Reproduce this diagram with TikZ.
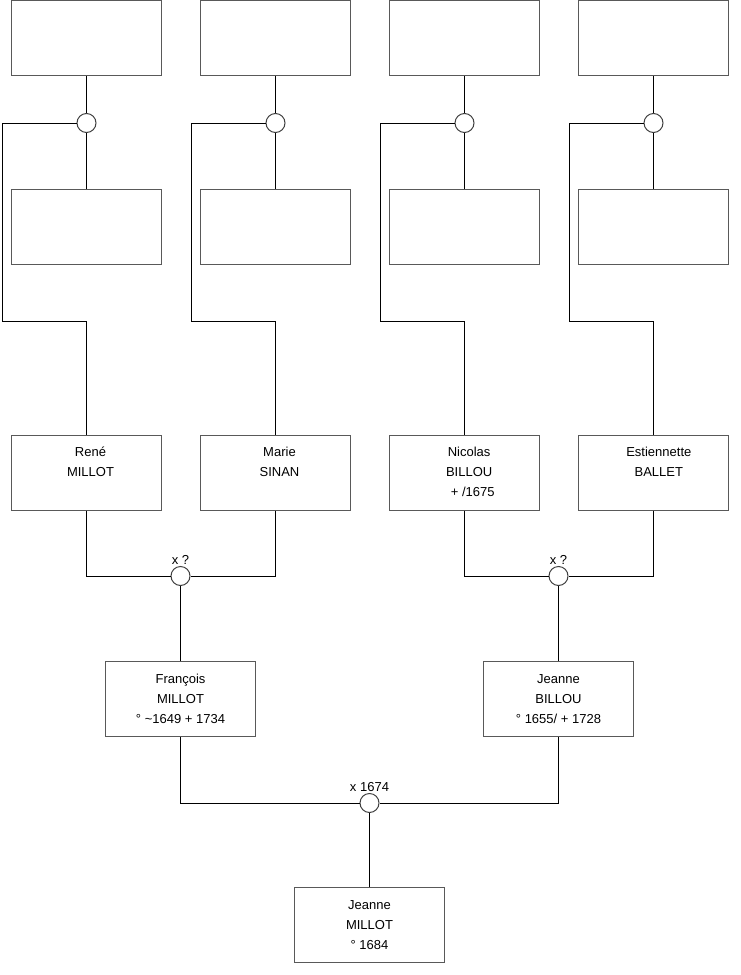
\documentclass[tikz,border=0pt]{standalone}
\usepackage{fontspec}
\setmainfont{Liberation Sans}
\begin{document}
\begin{tikzpicture}[x=0.75pt,y=-0.75pt,
  person/.style={draw=black!65, line width=0.75pt, minimum width=112.5pt, minimum height=56.25pt, inner sep=0pt},
  txt/.style={align=center, inner sep=0pt, font=\fontsize{9.75}{15}\selectfont},
  union/.style={circle, draw=black!75, line width=0.75pt, fill=white, minimum size=14.25pt, inner sep=0pt},
  lab/.style={anchor=base, inner sep=0pt, font=\fontsize{9.75}{15}\selectfont},
  link/.style={draw=black, line width=0.75pt}]
\useasboundingbox (0,0) rectangle (740,975);
% row 1 (unknown grandparents)
\node[person] (a1) at (86.5,38) {};
\node[person] (a2) at (275.5,38) {};
\node[person] (a3) at (464.5,38) {};
\node[person] (a4) at (653.5,38) {};
% row 2
\node[person] (b1) at (86.5,227) {};
\node[person] (b2) at (275.5,227) {};
\node[person] (b3) at (464.5,227) {};
\node[person] (b4) at (653.5,227) {};
% unions
\node[union] (m1) at (86.5,123) {};
\node[union] (m2) at (275.5,123) {};
\node[union] (m3) at (464.5,123) {};
\node[union] (m4) at (653.5,123) {};
% bends
\coordinate (k1) at (2,321);
\coordinate (k2) at (191,321);
\coordinate (k3) at (380,321);
\coordinate (k4) at (569,321);
% row 3
\node[person] (c1) at (86.5,472.5) {};
\node[person] (c2) at (275.5,472.5) {};
\node[person] (c3) at (464.5,472.5) {};
\node[person] (c4) at (653.5,472.5) {};
\node[txt, xshift=3pt] (t1) at (c1) {\strut René\\MILLOT\\\strut};
\node[txt, xshift=3pt] (t2) at (c2) {\strut Marie\\SINAN\\\strut};
\node[txt, xshift=3.5pt] (t3) at (c3) {\strut Nicolas\\BILLOU\\\ \ + /1675\strut};
\node[txt, xshift=4pt] (t4) at (c4) {\strut Estiennette\\BALLET\\\strut};
% unions row 3
\node[union] (p1) at (180.5,576) {};
\node[union] (p2) at (558.5,576) {};
\node[lab] (l1) at ([yshift=9pt]p1.center) {x ?};
\node[lab] (l2) at ([yshift=9pt]p2.center) {x ?};
% row 4
\node[person] (f1) at (180.5,699) {};
\node[person] (f2) at (558.5,699) {};
\node[txt] (tf1) at (f1) {\strut François\\MILLOT\\° \textasciitilde1649 + 1734\strut};
\node[txt] (tf2) at (f2) {\strut Jeanne\\BILLOU\\° 1655/ + 1728\strut};
\node[union] (q) at (369.5,803) {};
\node[lab] (lq) at ([yshift=9pt]q.center) {x 1674};
% row 5
\node[person] (g) at (369.5,925) {};
\node[txt] (tg) at (g) {\strut Jeanne\\MILLOT\\° 1684\strut};
% connectors
\foreach \i in {1,2,3,4}{
  \draw[link] (a\i) -- (m\i);
  \draw[link] (m\i) -- (b\i);
  \draw[link] (m\i.west) -| (k\i) -| (c\i.north);
}
\draw[link] (c1.south) |- (p1.west);
\draw[link] (c2.south) |- (p1.east);
\draw[link] (c3.south) |- (p2.west);
\draw[link] (c4.south) |- (p2.east);
\draw[link] (p1) -- (f1);
\draw[link] (p2) -- (f2);
\draw[link] (f1.south) |- (q.west);
\draw[link] (f2.south) |- (q.east);
\draw[link] (q) -- (g);
\end{tikzpicture}
\end{document}
